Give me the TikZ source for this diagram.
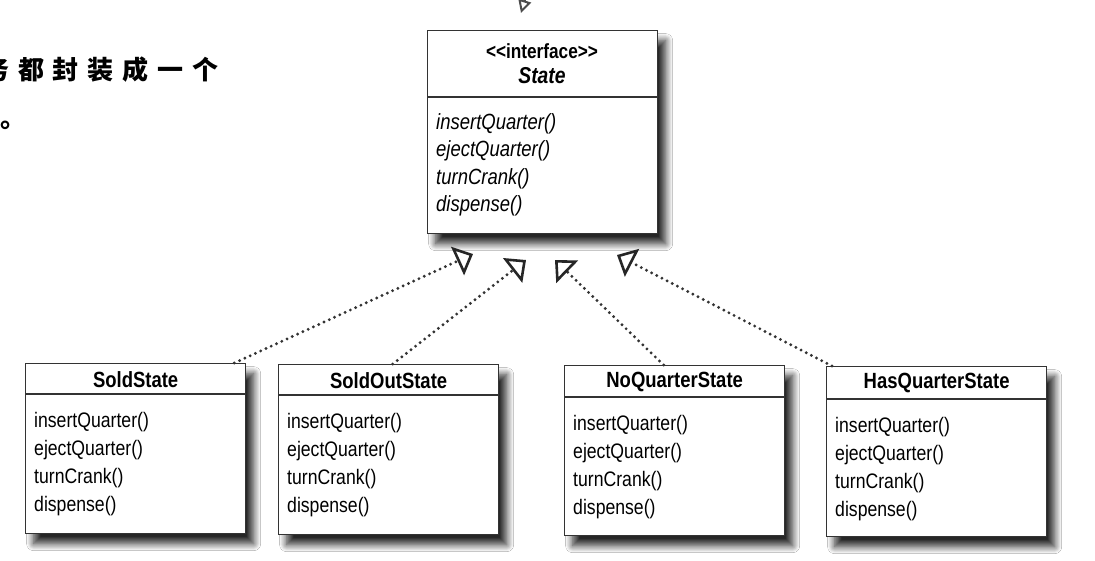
\documentclass[tikz,border=0pt]{standalone}
\usepackage{fontspec}
\setmainfont{Liberation Sans}[FakeStretch=0.84]
\newfontfamily\cjk{Noto Sans CJK SC}[LetterSpace=34]
\usetikzlibrary{positioning,arrows.meta,shadows.blur}
\tikzset{
  classbox/.style={draw=black!80, line width=1.3pt, fill=white, rectangle, anchor=north west,
    minimum width=220pt, minimum height=170pt, inner sep=0pt,
    blur shadow={shadow xshift=8pt, shadow yshift=-10pt, shadow blur radius=7pt, shadow blur steps=14, shadow opacity=85}},
  classname/.style={font=\bfseries\fontsize{22}{26}\selectfont, inner sep=0pt},
  methods/.style={font=\fontsize{21}{28}\selectfont, align=left, inner sep=0pt, anchor=north west},
  divider/.style={draw=black!80, line width=1.3pt},
  impl/.style={draw=black!80, line width=3.2pt, dash pattern=on 0pt off 5.8pt, line cap=round,
    -{Triangle[open, length=17pt, width=31pt, line width=2.6pt, color=black!85]}}
}
\begin{document}
\begin{tikzpicture}[x=1pt, y=-1pt]
\useasboundingbox[fill=white] (0,0) rectangle (1095,560);

% text of the page round the figure
\node[anchor=west, inner sep=0pt, font=\cjk\bfseries\fontsize{26}{30}\selectfont] (cntext) at (-17,70) {务都封装成一个};
\node[anchor=base west, inner sep=0pt, font=\cjk\bfseries\fontsize{26}{30}\selectfont] (cnstop) at (0,127) {。};
\coordinate (topfrom) at (534,-30);
\coordinate (topto) at (521,13);
\draw[black!70, line width=2pt, -{Triangle[open, length=13pt, width=13pt]}] (topfrom) -- (topto);

% the interface
\node[classbox, minimum width=230pt, minimum height=203pt] (state) at (427,30) {};
\node[classname, font=\bfseries\fontsize{20.5}{24}\selectfont] (stereo) at (542,51) {<\kern0pt<interface>\kern0pt>};
\node[classname, font=\bfseries\itshape\fontsize{23}{26}\selectfont] (sname) at (542,76) {State};
\draw[divider] ([yshift=-67pt]state.north west) -- ([yshift=-67pt]state.north east);
\node[methods, font=\itshape\fontsize{22}{27.5}\selectfont] (smeth) at (436,113)
  {insertQuarter()\\ejectQuarter()\\turnCrank()\\dispense()};

% the four states
\node[classbox] (sold) at (25,363) {};
\node[classbox] (soldout) at (278,364) {};
\node[classbox] (noquarter) at (564,365) {};
\node[classbox] (hasquarter) at (826,366) {};

\node[classname] (soldname) at ([yshift=-17pt]sold.north) {SoldState};
\node[classname] (soldoutname) at ([yshift=-17pt]soldout.north) {SoldOutState};
\node[classname] (noquartername) at ([yshift=-17pt]noquarter.north) {NoQuarterState};
\node[classname] (hasquartername) at ([yshift=-17pt]hasquarter.north) {HasQuarterState};

\draw[divider] ([yshift=-31pt]sold.north west) -- ([yshift=-31pt]sold.north east);
\draw[divider] ([yshift=-31pt]soldout.north west) -- ([yshift=-31pt]soldout.north east);
\draw[divider] ([yshift=-32pt]noquarter.north west) -- ([yshift=-32pt]noquarter.north east);
\draw[divider] ([yshift=-33pt]hasquarter.north west) -- ([yshift=-33pt]hasquarter.north east);

\node[methods] (soldmeth) at ([xshift=9pt, yshift=-49pt]sold.north west)
  {insertQuarter()\\ejectQuarter()\\turnCrank()\\dispense()};
\node[methods] (soldoutmeth) at ([xshift=9pt, yshift=-49pt]soldout.north west)
  {insertQuarter()\\ejectQuarter()\\turnCrank()\\dispense()};
\node[methods] (noquartermeth) at ([xshift=9pt, yshift=-50pt]noquarter.north west)
  {insertQuarter()\\ejectQuarter()\\turnCrank()\\dispense()};
\node[methods] (hasquartermeth) at ([xshift=9pt, yshift=-51pt]hasquarter.north west)
  {insertQuarter()\\ejectQuarter()\\turnCrank()\\dispense()};

% implements-arrows, stopping short of the interface
\coordinate (tip1) at (473,254);
\coordinate (tip2) at (526,260);
\coordinate (tip3) at (555,260);
\coordinate (tip4) at (617,255);

\draw[impl] ([xshift=-12pt]sold.north east) -- (tip1);
\draw[impl] ([xshift=4pt]soldout.north) -- (tip2);
\draw[impl] ([xshift=-11pt]noquarter.north) -- (tip3);
\draw[impl] ([xshift=6pt]hasquarter.north west) -- (tip4);
\end{tikzpicture}
\end{document}
